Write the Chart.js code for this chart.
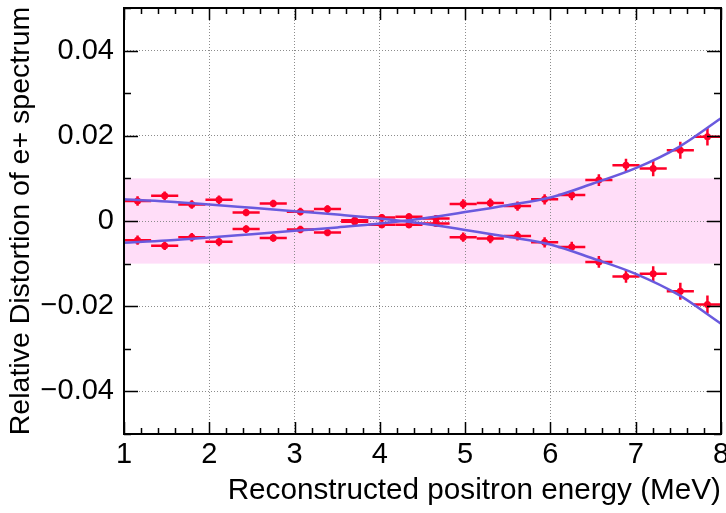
<!DOCTYPE html>
<html>
<head>
<meta charset="utf-8">
<script src="https://cdn.jsdelivr.net/npm/chart.js@4"></script>
<style>
html,body{margin:0;padding:0;background:#fff;}
</style>
</head>
<body>
<canvas id="distChart" width="726" height="513"></canvas>
<script>
// 22 energy bins between 1 and 8 MeV
const binCenters=[1.159,1.477,1.795,2.114,2.432,2.750,3.068,3.386,3.705,4.023,4.341,
                  4.659,4.977,5.295,5.614,5.932,6.250,6.568,6.886,7.205,7.523,7.841];
const binHalfWidth=0.159;
// distortion points, upper and lower branch
const upperPts=[0.0047,0.0059,0.0039,0.0050,0.0020,0.0041,0.0022,0.0028,0.0002,0.0008,0.0010,
                0.0006,0.0040,0.0042,0.0035,0.0051,0.0061,0.0096,0.0131,0.0123,0.0166,0.0198];
const lowerPts=[-0.0045,-0.0058,-0.0038,-0.0049,-0.0019,-0.0040,-0.0020,-0.0027,-0.0002,-0.0009,-0.0009,
                -0.0006,-0.0038,-0.0041,-0.0035,-0.0050,-0.0061,-0.0096,-0.0130,-0.0124,-0.0165,-0.0196];
const pointErr=[0.0011,0.0010,0.0010,0.0010,0.0009,0.0009,0.0009,0.0009,0.0008,0.0008,0.0008,
                0.0008,0.0011,0.0011,0.0011,0.0012,0.0012,0.0014,0.0015,0.0018,0.0020,0.0021];
// fitted curves
const curveE=[1,1.5,2,2.5,3,3.5,4,4.5,5,5.5,6,6.5,7,7.5,8];
const curveA=[0.0051,0.0046,0.0039,0.0031,0.0023,0.0015,0.0006,-0.0006,-0.0021,-0.0037,-0.0055,-0.0088,-0.0124,-0.0173,-0.0241];
const curveB=[-0.0051,-0.0046,-0.0039,-0.0031,-0.0023,-0.0015,-0.0006,0.0006,0.0021,0.0037,0.0055,0.0088,0.0124,0.0173,0.0241];
// +-1% band
const bandLimits=[-0.01,0.01];
const xTicks=[1,2,3,4,5,6,7,8];
const yTicks=[-0.04,-0.02,0,0.02,0.04];
const yTickLabels=['\u22120.04','\u22120.02','0','0.02','0.04'];

const RED='rgb(255,0,40)';
const BLUE='rgb(106,90,222)';
const FONT='"Liberation Sans", Arial, Helvetica, sans-serif';

const bandPlugin={
  id:'band',
  beforeDraw(chart){
    const {ctx,chartArea:a,scales:{y}}=chart;
    const t=y.getPixelForValue(bandLimits[1]), b=y.getPixelForValue(bandLimits[0]);
    ctx.save();
    ctx.fillStyle='rgb(255,221,248)';
    ctx.fillRect(a.left,t,a.right-a.left,b-t);
    ctx.restore();
  }
};

const errorBarPlugin={
  id:'errorBars',
  beforeDatasetsDraw(chart){
    const {ctx,scales:{x,y}}=chart;
    ctx.save();
    ctx.strokeStyle=RED;
    ctx.lineWidth=2.5;
    [upperPts,lowerPts].forEach(vals=>{
      vals.forEach((v,i)=>{
        const c=binCenters[i];
        const px=x.getPixelForValue(c), py=y.getPixelForValue(v);
        ctx.beginPath();
        ctx.moveTo(x.getPixelForValue(c-binHalfWidth),py);
        ctx.lineTo(x.getPixelForValue(c+binHalfWidth),py);
        ctx.moveTo(px,y.getPixelForValue(v-pointErr[i]));
        ctx.lineTo(px,y.getPixelForValue(v+pointErr[i]));
        ctx.stroke();
      });
    });
    ctx.restore();
  }
};

// black frame with inward ticks on all four sides
const framePlugin={
  id:'frame',
  afterDraw(chart){
    const {ctx,chartArea:a,scales:{x,y}}=chart;
    ctx.save();
    ctx.strokeStyle='#000';
    ctx.lineWidth=1.5;
    ctx.beginPath();
    for(let v=1;v<=8.001;v+=0.2){
      const px=Math.round(x.getPixelForValue(v))+0.5;
      const major=Math.abs(v-Math.round(v))<0.01;
      const len=major?12:6;
      ctx.moveTo(px,a.bottom);ctx.lineTo(px,a.bottom-len);
      ctx.moveTo(px,a.top);ctx.lineTo(px,a.top+len);
    }
    for(let k=-5;k<=5;k++){
      const py=Math.round(y.getPixelForValue(k*0.01))+0.5;
      const len=(k%2===0)?14:7;
      ctx.moveTo(a.left,py);ctx.lineTo(a.left+len,py);
      ctx.moveTo(a.right,py);ctx.lineTo(a.right-len,py);
    }
    ctx.stroke();
    ctx.lineWidth=2;
    ctx.strokeRect(a.left,a.top,a.right-a.left,a.bottom-a.top);
    ctx.restore();
  }
};

const toXY=(xs,ys)=>xs.map((v,i)=>({x:v,y:ys[i]}));

new Chart(document.getElementById('distChart'),{
  type:'line',
  data:{
    datasets:[
      {data:toXY(curveE,curveA),borderColor:BLUE,borderWidth:2.5,pointRadius:0,cubicInterpolationMode:'monotone',order:0},
      {data:toXY(curveE,curveB),borderColor:BLUE,borderWidth:2.5,pointRadius:0,cubicInterpolationMode:'monotone',order:0},
      {data:toXY(binCenters,upperPts),showLine:false,pointRadius:3.5,pointBackgroundColor:RED,pointBorderWidth:0,order:1},
      {data:toXY(binCenters,lowerPts),showLine:false,pointRadius:3.5,pointBackgroundColor:RED,pointBorderWidth:0,order:1}
    ]
  },
  options:{
    responsive:false,
    animation:false,
    layout:{padding:{left:0,right:5,top:8,bottom:0}},
    plugins:{legend:{display:false},tooltip:{enabled:false}},
    scales:{
      x:{
        type:'linear',min:1,max:8,
        afterBuildTicks:s=>{s.ticks=xTicks.map(v=>({value:v}));},
        afterFit:s=>{s.height=79;s.paddingLeft=0;s.paddingRight=0;},
        grid:{color:'#8c8c8c',lineWidth:1,drawTicks:false},
        border:{display:false,dash:[1,2]},
        ticks:{color:'#000',font:{family:FONT,size:29},padding:4,maxRotation:0},
        title:{display:true,text:'Reconstructed positron energy (MeV)',align:'end',color:'#000',
               font:{family:FONT,size:29.7},padding:{top:0,bottom:4}}
      },
      y:{
        min:-0.05,max:0.05,
        afterBuildTicks:s=>{s.ticks=yTicks.map(v=>({value:v}));},
        afterFit:s=>{s.width=124;s.paddingTop=0;s.paddingBottom=0;},
        grid:{color:'#8c8c8c',lineWidth:1,drawTicks:false},
        border:{display:false,dash:[1,2]},
        ticks:{color:'#000',font:{family:FONT,size:29},padding:10,callback:(v,i)=>yTickLabels[i]},
        title:{display:true,text:'Relative Distortion of e+ spectrum',color:'#000',
               font:{family:FONT,size:28.5},padding:{top:4,bottom:0}}
      }
    }
  },
  plugins:[bandPlugin,errorBarPlugin,framePlugin]
});
</script>
</body>
</html>
